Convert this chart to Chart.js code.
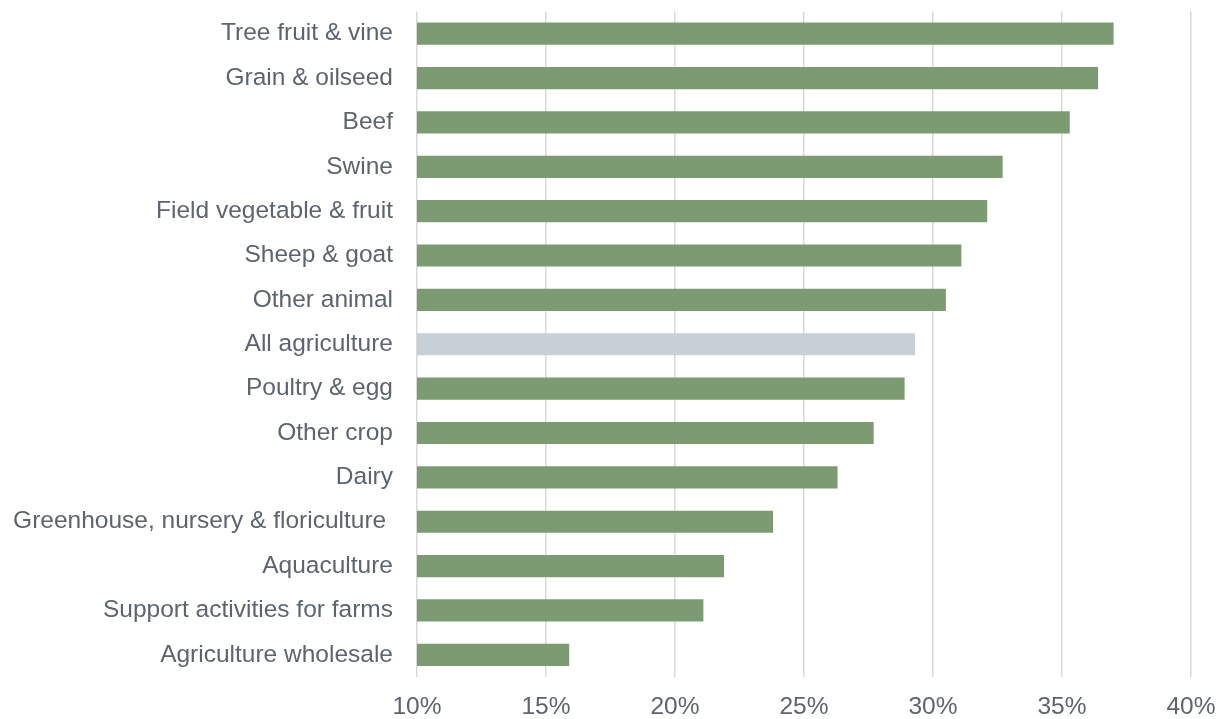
<!DOCTYPE html>
<html>
<head>
<meta charset="utf-8">
<script src="https://cdn.jsdelivr.net/npm/chart.js@4/dist/chart.umd.min.js"></script>
<style>
html,body{margin:0;padding:0;background:#fff;}
#wrap{width:1222px;height:719px;}
</style>
</head>
<body>
<div id="wrap"><canvas id="c" width="1222" height="719"></canvas></div>
<script>
const categories = [
  "Tree fruit & vine",
  "Grain & oilseed",
  "Beef",
  "Swine",
  "Field vegetable & fruit",
  "Sheep & goat",
  "Other animal",
  "All agriculture",
  "Poultry & egg",
  "Other crop",
  "Dairy",
  "Greenhouse, nursery & floriculture ",
  "Aquaculture",
  "Support activities for farms",
  "Agriculture wholesale"
];
const values = [37.0, 36.4, 35.3, 32.7, 32.1, 31.1, 30.5, 29.3, 28.9, 27.7, 26.3, 23.8, 21.9, 21.1, 15.9];
const highlight = "All agriculture";
const xTicks = [10, 15, 20, 25, 30, 35, 40];

const green = "#7d9b72";
const grey = "#c7d1d7";
const textColor = "#5d6470";

new Chart(document.getElementById("c"), {
  type: "bar",
  data: {
    labels: categories,
    datasets: [{
      data: values,
      backgroundColor: categories.map(c => c === highlight ? grey : green),
      borderWidth: 0,
      barPercentage: 0.5,
      categoryPercentage: 1.0
    }]
  },
  options: {
    indexAxis: "y",
    responsive: false,
    animation: false,
    layout: { padding: { top: 11.5, right: 31, left: 0, bottom: 0 } },
    plugins: { legend: { display: false }, tooltip: { enabled: false } },
    scales: {
      x: {
        min: 10, max: 40,
        afterBuildTicks: s => { s.ticks = xTicks.map(v => ({ value: v })); },
        afterFit: s => { s.height = 42; s.paddingLeft = 0; s.paddingRight = 0; },
        grid: { color: "#d9d9d9", lineWidth: 1.5, drawTicks: false },
        border: { display: false },
        ticks: {
          color: textColor,
          font: { family: "Liberation Sans, Arial, sans-serif", size: 24.5 },
          padding: 15.5,
          maxRotation: 0,
          callback: v => v + "%"
        }
      },
      y: {
        afterFit: s => { s.width = 417; s.paddingTop = 0; s.paddingBottom = 0; },
        grid: { display: false, drawTicks: false },
        border: { display: false },
        ticks: {
          color: textColor,
          font: { family: "Liberation Sans, Arial, sans-serif", size: 24.5 },
          padding: 24
        }
      }
    }
  }
});
</script>
</body>
</html>
